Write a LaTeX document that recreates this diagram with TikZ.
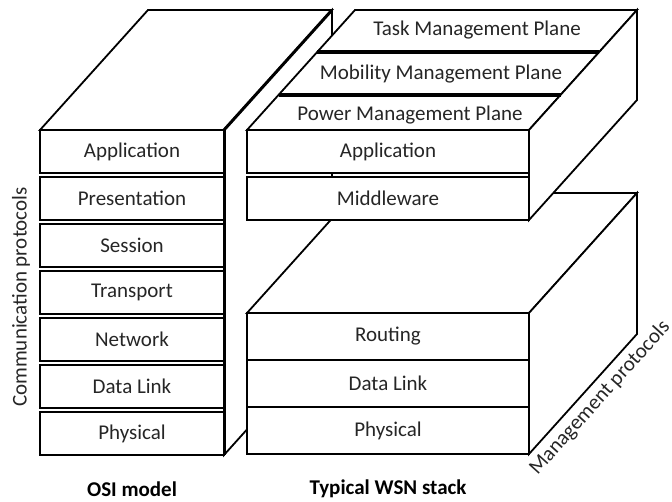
\documentclass[tikz,border=0pt]{standalone}
\usepackage{fontspec}
\setmainfont{Carlito}
\begin{document}
\begin{tikzpicture}[x=1pt,y=-1pt,
  edge/.style={line width=1.8pt, line join=miter},
  face/.style={edge, fill=white},
  thickedge/.style={line width=3pt},
  sep/.style={line width=4.5pt},
  lbl/.style={inner sep=0pt, font=\fontsize{21}{24}\selectfont, text=black!85},
  layer/.style={lbl, draw, line width=1.8pt, fill=white},
  osibox/.style={layer, minimum width=184pt, minimum height=43pt},
  upbox/.style={layer, minimum width=282pt, minimum height=43pt},
  lowbox/.style={layer, minimum width=282pt, minimum height=47pt},
  caption/.style={lbl, font=\fontsize{21}{24}\selectfont\bfseries, text=black}
]
\useasboundingbox (0,0) rectangle (672,501);

% ---------- OSI block ----------
\draw[face] (40,130) -- (148,10) -- (332,10) -- (224,130) -- cycle;
\draw[face] (224,130) -- (332,10) -- (332,335) -- (224,455) -- cycle;
\foreach \name/\txt [count=\i from 0] in
  {app/Application, pres/Presentation, sess/Session, trans/Transport,
   net/Network, dl/Data Link, phy/Physical}
  \node[osibox] (osi-\name) at (132,151.5+47*\i) {\txt};
\draw[thickedge] (224,130) -- (224,455);
\draw[thickedge] (224,130) -- (332,10);

% ---------- WSN lower block (management protocols) ----------
\draw[face] (247,313) -- (355,193) -- (637,193) -- (529,313) -- cycle;
\draw[face] (529,313) -- (637,193) -- (637,334) -- (529,454) -- cycle;
\node[lowbox] (wsn-route) at (388,336.5) {Routing};
\node[lowbox] (wsn-dl)    at (388,383.5) {Data Link};
\node[lowbox] (wsn-phy)   at (388,430.5) {Physical};

% ---------- WSN upper block with management planes ----------
\draw[face] (247,130) -- (355,10) -- (637,10) -- (529,130) -- cycle;
\draw[face] (529,130) -- (637,10) -- (637,100) -- (529,220) -- cycle;
\draw[sep] (317,52) -- (599,52);
\draw[sep] (278.5,95) -- (560.5,95);
\node[lbl] (plane-task) at (477,30)  {Task Management Plane};
\node[lbl] (plane-mob)  at (441,74)  {Mobility Management Plane};
\node[lbl] (plane-pow)  at (410,115) {Power Management Plane};
\node[upbox] (wsn-app) at (388,151.5) {Application};
\node[upbox] (wsn-mid) at (388,198.5) {Middleware};

% ---------- labels ----------
\node[lbl, rotate=90] (comm) at (21,297) {Communication protocols};
\node[lbl, rotate=48] (mgmt) at (600,398) {Management protocols};
\node[caption] (osi-cap) at (132,489) {OSI model};
\node[caption] (wsn-cap) at (388,489) {Typical WSN stack};
\end{tikzpicture}
\end{document}
